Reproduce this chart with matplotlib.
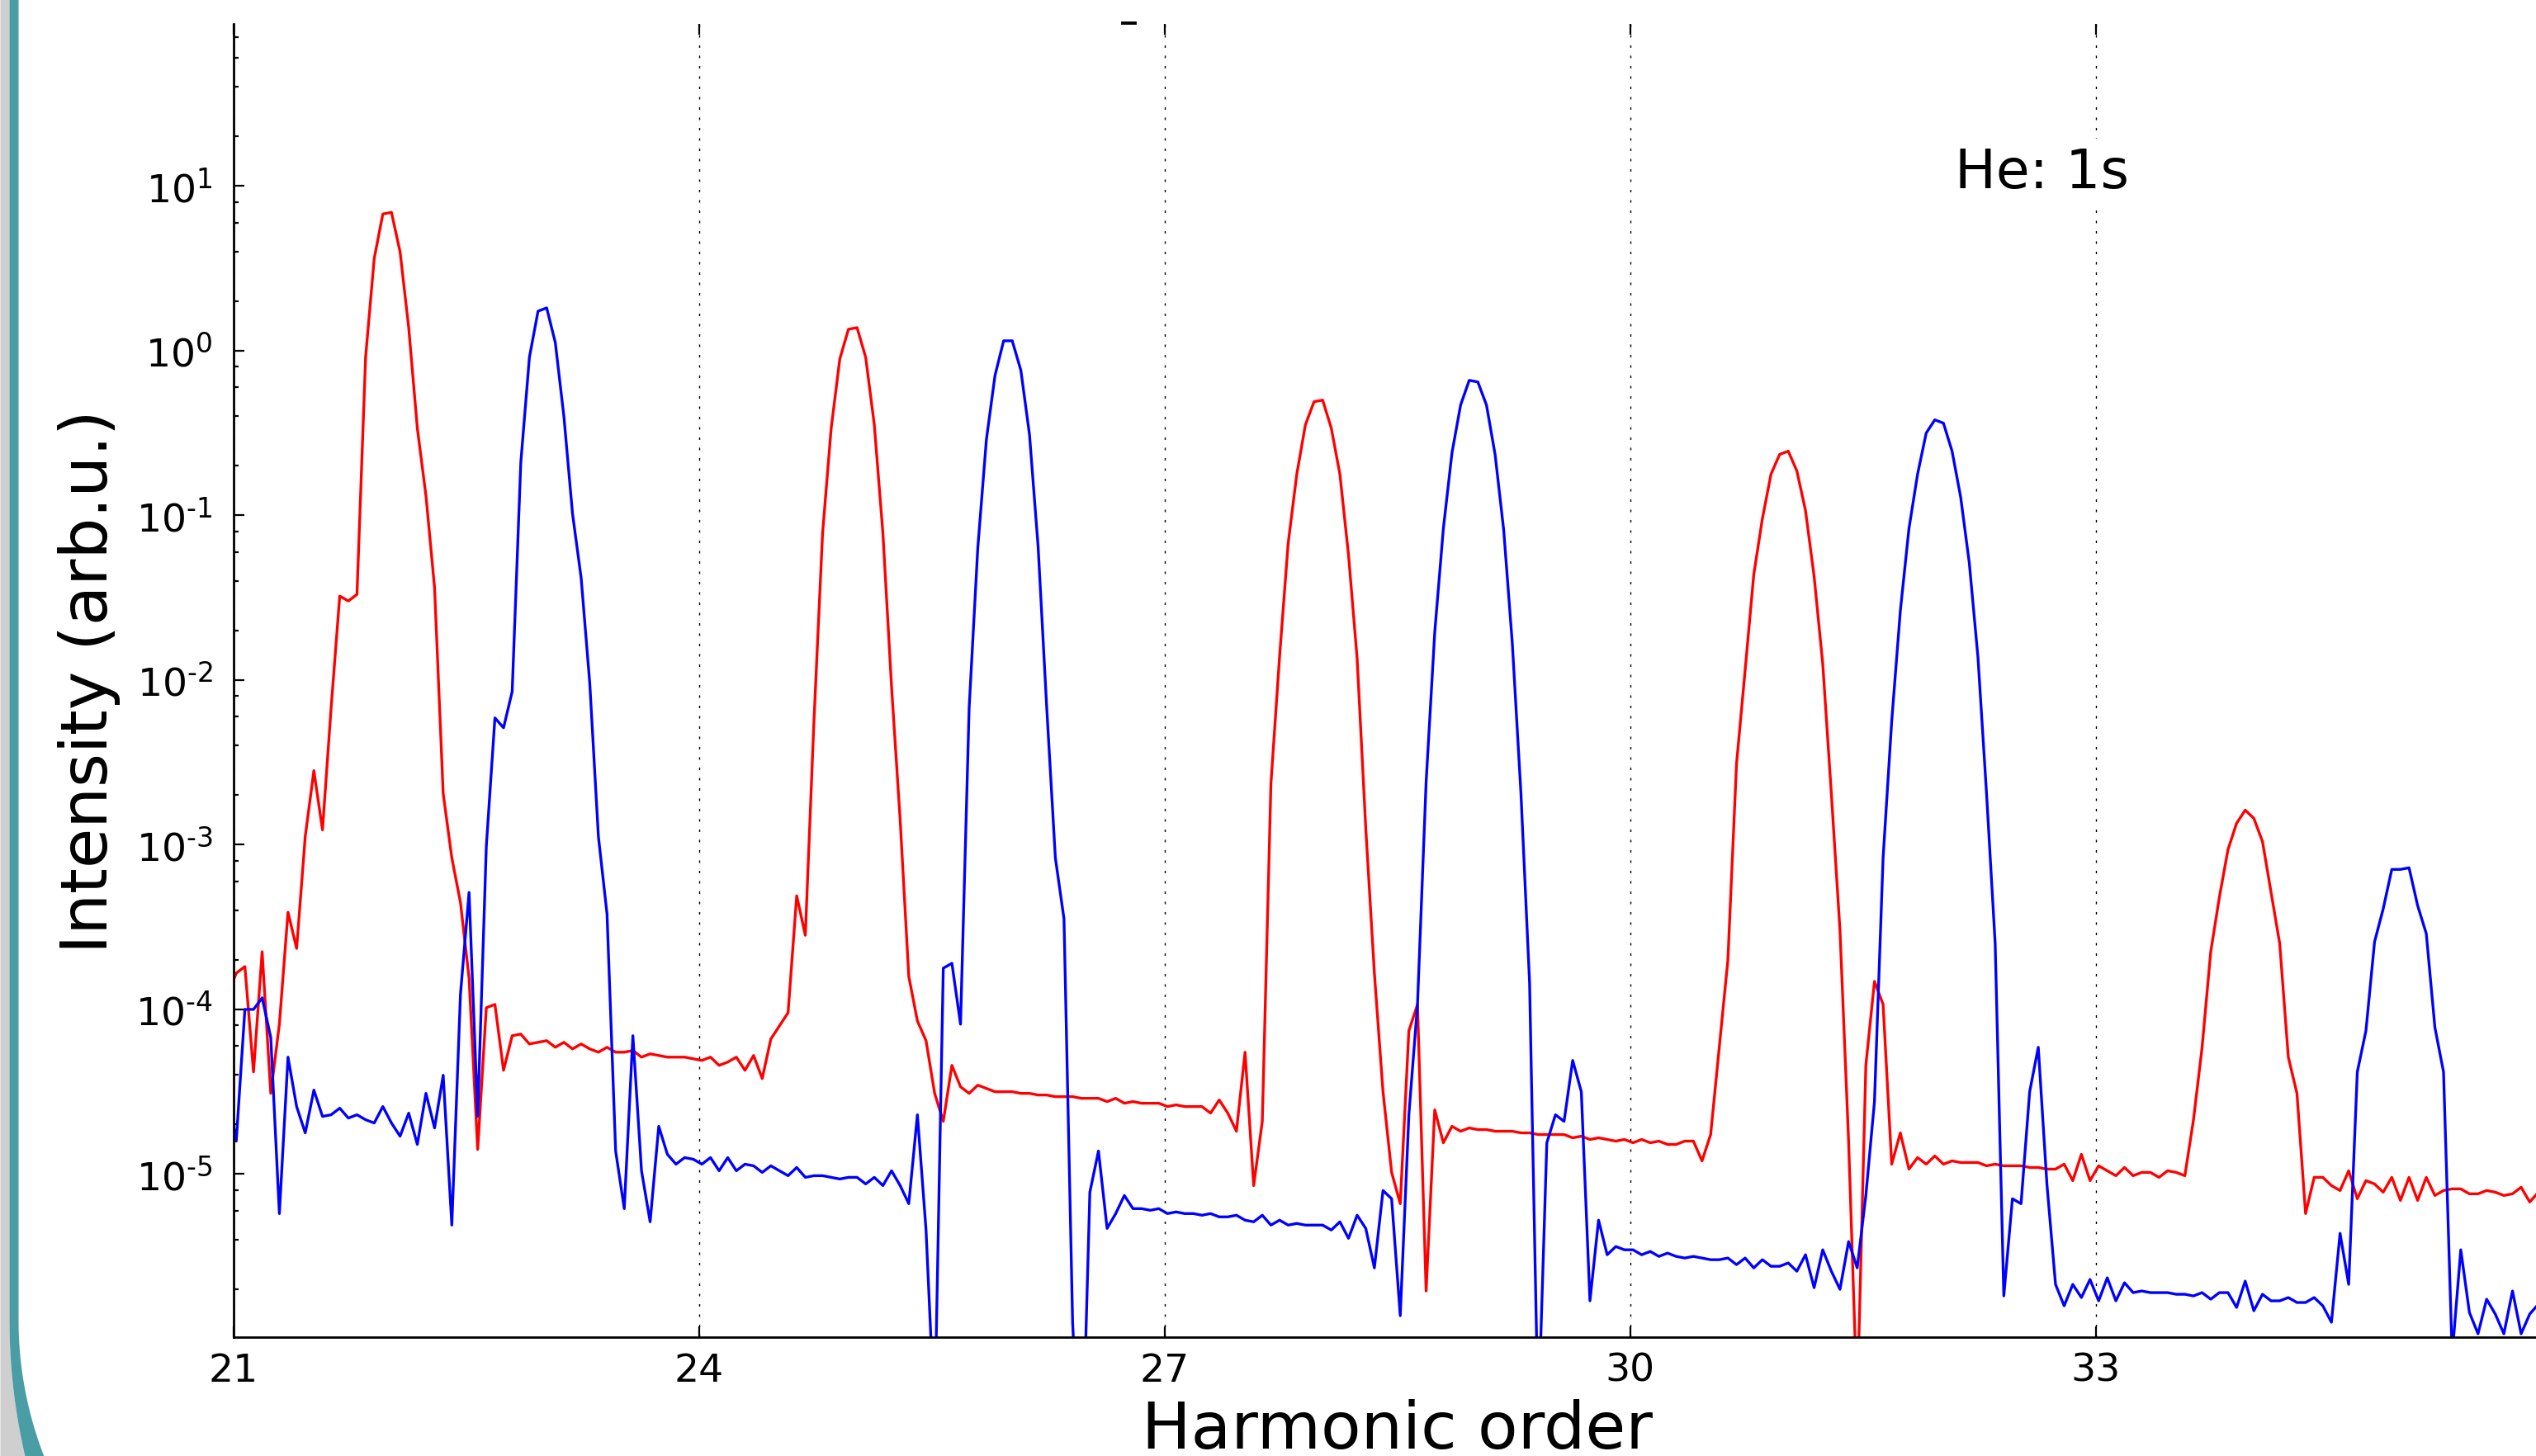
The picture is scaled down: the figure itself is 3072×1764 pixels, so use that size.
import numpy as np
import matplotlib
matplotlib.use('Agg')
import matplotlib.pyplot as plt
from matplotlib.ticker import LogLocator, NullFormatter, FuncFormatter, FixedLocator
from matplotlib.lines import Line2D

plt.rcParams['font.family'] = ['DejaVu Sans']
plt.rcParams['lines.scale_dashes'] = False

# log10 of the harmonic intensity, one value per sample
red_log10 = [
    -3.91, -3.78, -3.74, -4.38, -3.65, -4.51, -4.09, -3.41, -3.63, -2.95,
    -2.55, -2.91, -2.17, -1.49, -1.52, -1.48, -0.04, 0.56, 0.83, 0.84,
    0.60, 0.14, -0.47, -0.88, -1.44, -2.69, -3.08, -3.35, -3.81, -4.85,
    -3.99, -3.97, -4.37, -4.16, -4.15, -4.21, -4.20, -4.19, -4.23, -4.20,
    -4.24, -4.21, -4.24, -4.26, -4.23, -4.26, -4.26, -4.25, -4.29, -4.27,
    -4.28, -4.29, -4.29, -4.29, -4.30, -4.31, -4.29, -4.34, -4.32, -4.29,
    -4.37, -4.28, -4.42, -4.18, -4.10, -4.02, -3.31, -3.55, -2.25, -1.11,
    -0.47, -0.05, 0.13, 0.14, -0.04, -0.45, -1.11, -2.04, -2.85, -3.80,
    -4.07, -4.19, -4.51, -4.68, -4.34, -4.47, -4.51, -4.46, -4.48, -4.50,
    -4.50, -4.50, -4.51, -4.51, -4.52, -4.52, -4.53, -4.53, -4.53, -4.54,
    -4.54, -4.54, -4.56, -4.54, -4.57, -4.56, -4.57, -4.57, -4.57, -4.59,
    -4.58, -4.59, -4.59, -4.59, -4.63, -4.55, -4.63, -4.74, -4.26, -5.07,
    -4.68, -2.63, -1.86, -1.17, -0.75, -0.45, -0.31, -0.30, -0.47, -0.75,
    -1.24, -1.87, -2.90, -3.78, -4.50, -4.99, -5.18, -4.13, -3.97, -5.71,
    -4.61, -4.81, -4.71, -4.74, -4.72, -4.73, -4.73, -4.74, -4.74, -4.74,
    -4.75, -4.75, -4.76, -4.76, -4.76, -4.76, -4.78, -4.77, -4.79, -4.78,
    -4.79, -4.80, -4.79, -4.81, -4.79, -4.81, -4.80, -4.82, -4.82, -4.80,
    -4.80, -4.92, -4.76, -4.23, -3.70, -2.51, -1.94, -1.36, -1.02, -0.75,
    -0.63, -0.61, -0.73, -0.97, -1.37, -1.90, -2.69, -3.52, -4.80, -6.40,
    -4.34, -3.83, -3.97, -4.94, -4.75, -4.97, -4.90, -4.94, -4.89, -4.94,
    -4.92, -4.93, -4.93, -4.93, -4.95, -4.94, -4.95, -4.95, -4.95, -4.96,
    -4.96, -4.97, -4.97, -4.94, -5.04, -4.88, -5.04, -4.95, -4.98, -5.01,
    -4.96, -5.01, -4.99, -4.99, -5.02, -4.98, -4.99, -5.01, -4.67, -4.23,
    -3.65, -3.32, -3.03, -2.87, -2.79, -2.84, -2.98, -3.29, -3.60, -4.29,
    -4.51, -5.24, -5.02, -5.02, -5.07, -5.10, -4.98, -5.15, -5.04, -5.06,
    -5.11, -5.02, -5.16, -5.02, -5.16, -5.02, -5.13, -5.10, -5.09, -5.09,
    -5.12, -5.12, -5.10, -5.11, -5.13, -5.12, -5.08, -5.17, -5.11,
]

blue_log10 = [
    -4.50, -4.80, -4.00, -4.00, -3.93, -4.17, -5.24, -4.29, -4.59, -4.75,
    -4.49, -4.65, -4.64, -4.60, -4.66, -4.64, -4.67, -4.69, -4.59, -4.69,
    -4.77, -4.63, -4.82, -4.51, -4.72, -4.40, -5.31, -3.91, -3.29, -4.65,
    -3.01, -2.23, -2.29, -2.07, -0.68, -0.04, 0.24, 0.26, 0.05, -0.40,
    -0.99, -1.38, -2.02, -2.95, -3.42, -4.86, -5.21, -4.16, -4.98, -5.29,
    -4.71, -4.88, -4.94, -4.90, -4.91, -4.94, -4.90, -4.98, -4.90, -4.98,
    -4.94, -4.95, -4.99, -4.95, -4.98, -5.01, -4.96, -5.02, -5.01, -5.01,
    -5.02, -5.03, -5.02, -5.02, -5.06, -5.02, -5.07, -4.98, -5.07, -5.18,
    -4.64, -5.34, -6.50, -3.75, -3.72, -4.09, -2.17, -1.20, -0.54, -0.15,
    0.06, 0.06, -0.12, -0.51, -1.19, -2.17, -3.08, -3.45, -5.90, -7.00,
    -5.11, -4.86, -5.33, -5.24, -5.13, -5.21, -5.21, -5.22, -5.21, -5.24,
    -5.23, -5.24, -5.24, -5.25, -5.24, -5.26, -5.26, -5.25, -5.28, -5.29,
    -5.25, -5.31, -5.28, -5.31, -5.30, -5.31, -5.31, -5.31, -5.34, -5.29,
    -5.39, -5.25, -5.33, -5.57, -5.10, -5.15, -5.86, -4.64, -3.97, -2.62,
    -1.71, -1.08, -0.62, -0.33, -0.18, -0.19, -0.33, -0.63, -1.09, -1.78,
    -2.69, -3.84, -6.50, -4.81, -4.64, -4.68, -4.31, -4.50, -5.77, -5.28,
    -5.49, -5.44, -5.46, -5.46, -5.49, -5.47, -5.50, -5.48, -5.50, -5.51,
    -5.50, -5.51, -5.52, -5.52, -5.51, -5.55, -5.51, -5.57, -5.52, -5.56,
    -5.56, -5.54, -5.59, -5.49, -5.69, -5.46, -5.59, -5.70, -5.41, -5.57,
    -5.13, -4.56, -3.08, -2.25, -1.58, -1.08, -0.75, -0.50, -0.42, -0.44,
    -0.61, -0.89, -1.29, -1.86, -2.69, -3.60, -5.74, -5.15, -5.18, -4.50,
    -4.23, -5.06, -5.67, -5.80, -5.67, -5.75, -5.64, -5.77, -5.63, -5.77,
    -5.66, -5.72, -5.71, -5.72, -5.72, -5.72, -5.73, -5.73, -5.74, -5.72,
    -5.76, -5.72, -5.72, -5.81, -5.65, -5.83, -5.73, -5.77, -5.77, -5.75,
    -5.78, -5.78, -5.75, -5.80, -5.90, -5.36, -5.67, -4.38, -4.13, -3.59,
    -3.39, -3.15, -3.15, -3.14, -3.37, -3.54, -4.11, -4.38, -6.10, -5.46,
    -5.84, -5.97, -5.76, -5.85, -5.97, -5.71, -5.97, -5.85, -5.79,
]

# samples are 1/18 of a harmonic apart
x_first = 20.963
x_step = 1 / 18
xticks = [21, 24, 27, 30, 33]
ytick_exponents = [-5, -4, -3, -2, -1, 0, 1]
label_text = 'He: 1s'

n = len(red_log10)
assert len(blue_log10) == n
harmonic = x_first + x_step * np.arange(n)
red = 10 ** np.array(red_log10)
blue = 10 ** np.array(blue_log10)

W, H, DPI = 3072, 1765, 200
fig = plt.figure(figsize=(W / DPI, H / DPI), dpi=DPI)

# slide frame on the left edge
bg = fig.add_axes([0, 0, 1, 1], zorder=-1)
bg.set_xlim(0, W)
bg.set_ylim(H, 0)
bg.axis('off')
yy = np.linspace(0, H, 600)
dy = np.clip(yy - 1600, 0, None)
outer = 11 + 726 - np.sqrt(726 ** 2 - dy ** 2)
inner = 22 + 455 - np.sqrt(np.clip(455 ** 2 - dy ** 2, 0, None))
bg.fill_betweenx(yy, 0, outer, color='#cfcfcf', lw=0)
bg.fill_betweenx(yy, outer, inner, color='#4a9ca5', lw=0)

ax = fig.add_axes([0.09203, 0.08147, 0.91797, 0.90131])
ax.plot(harmonic, red, color='red', lw=1.2)
ax.plot(harmonic, blue, color='blue', lw=1.2)

ax.set_yscale('log')
ax.set_xlim(21, 36)
ax.set_ylim(1.02e-6, 96)
ax.set_xticks(xticks)
ax.set_xticklabels([str(t) for t in xticks])


def sci(v, pos):
    e = int(round(np.log10(v)))
    if e < 0:
        return r'$\mathdefault{10^{\text{-}%d}}$' % (-e)
    return r'$\mathdefault{10^{%d}}$' % e


ax.yaxis.set_major_locator(FixedLocator([10.0 ** e for e in ytick_exponents]))
ax.yaxis.set_major_formatter(FuncFormatter(sci))
ax.yaxis.set_minor_locator(LogLocator(base=10, subs=(2, 4, 6, 8), numticks=100))
ax.yaxis.set_minor_formatter(NullFormatter())

ax.xaxis.grid(True, linestyle=(0, (1.1, 3.4)), color='black', lw=0.5)
ax.tick_params(which='both', direction='in', top=True, right=True,
               labelsize=17, width=0.8)
ax.tick_params(which='major', length=4.7)
ax.tick_params(which='minor', length=2.3)
ax.tick_params(axis='x', pad=6.3)
ax.tick_params(axis='y', pad=9)
ax.spines['top'].set_visible(False)
ax.spines['right'].set_visible(False)
for s in ('left', 'bottom'):
    ax.spines[s].set_linewidth(1.0)

ax.set_xlabel('Harmonic order', fontsize=28.6, labelpad=4.2)
ax.set_ylabel('Intensity (arb.u.)', fontsize=28.3, labelpad=6.5)
ax.text(32.09, 9.82, label_text, fontsize=23.9, va='baseline', ha='left',
        bbox=dict(facecolor='white', edgecolor='none', pad=3))

# small stray mark above the axes
fig.add_artist(Line2D([1360 / W, 1375 / W], [1 - 28.5 / H] * 2,
                      color='black', lw=1.4))

fig.savefig('out.png', dpi=DPI)
